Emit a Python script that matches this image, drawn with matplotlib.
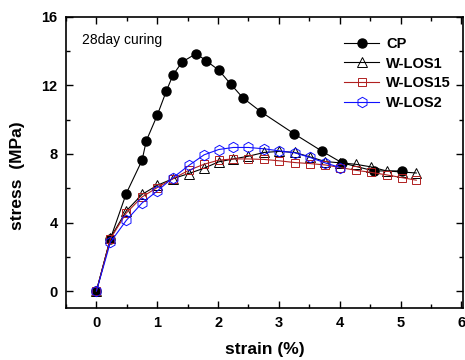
import matplotlib
matplotlib.use('Agg')
import matplotlib.pyplot as plt
from matplotlib.ticker import MultipleLocator

plt.rcParams['font.family'] = ['Liberation Sans', 'DejaVu Sans']

# CP (plain cement paste)
cp_strain = [0, 0.23, 0.49, 0.75, 0.82, 1.0, 1.15, 1.26, 1.41, 1.64, 1.80, 2.01,
             2.21, 2.41, 2.71, 3.25, 3.71, 4.04, 4.56, 5.02]
cp_stress = [0, 3.05, 5.69, 7.63, 8.77, 10.26, 11.68, 12.62, 13.37, 13.86, 13.45,
             12.9, 12.07, 11.27, 10.45, 9.18, 8.16, 7.48, 7.01, 7.01]

# W-LOS1
los1_strain = [0, 0.23, 0.49, 0.75, 1.0, 1.26, 1.52, 1.77, 2.01, 2.25, 2.5, 2.76,
               3.01, 3.26, 3.51, 3.76, 4.01, 4.26, 4.51, 4.77, 5.02, 5.26]
los1_stress = [0, 3.1, 4.67, 5.64, 6.17, 6.56, 6.86, 7.17, 7.54, 7.71, 7.87, 8.09,
               8.15, 8.09, 7.83, 7.56, 7.48, 7.4, 7.25, 7.01, 6.95, 6.89]

# W-LOS15
los15_strain = [0, 0.23, 0.49, 0.75, 1.0, 1.26, 1.52, 1.77, 2.01, 2.25, 2.5, 2.76,
                3.01, 3.26, 3.51, 3.76, 4.01, 4.26, 4.51, 4.77, 5.02, 5.26]
los15_stress = [0, 3.05, 4.55, 5.49, 6.04, 6.56, 7.05, 7.40, 7.64, 7.71, 7.71, 7.68,
                7.6, 7.5, 7.44, 7.36, 7.21, 7.05, 6.93, 6.78, 6.62, 6.47]

# W-LOS2
los2_strain = [0, 0.23, 0.49, 0.75, 1.0, 1.26, 1.52, 1.77, 2.01, 2.25, 2.5, 2.76,
               3.01, 3.26, 3.51, 3.76, 4.01]
los2_stress = [0, 2.85, 4.12, 5.14, 5.84, 6.62, 7.33, 7.95, 8.26, 8.38, 8.38, 8.30,
               8.18, 8.07, 7.8, 7.48, 7.21]

fig = plt.figure(figsize=(4.65, 3.6), dpi=100)
ax = fig.add_axes([0.142, 0.144, 0.854, 0.809])

ax.plot(cp_strain, cp_stress, color='black', lw=0.8, marker='o', ms=6.5,
        mfc='black', mec='black', label='CP')
ax.plot(los1_strain, los1_stress, color='black', lw=0.8, marker='^', ms=7,
        mfc='none', mec='black', mew=0.7, label='W-LOS1')
ax.plot(los15_strain, los15_stress, color='#b02020', lw=0.8, marker='s', ms=6,
        mfc='none', mec='#b02020', mew=0.7, label='W-LOS15')
ax.plot(los2_strain, los2_stress, color='#1010ff', lw=0.8, marker='h', ms=7.5,
        mfc='none', mec='#1010ff', mew=0.7, label='W-LOS2')

ax.set_xlim(-0.5, 6.03)
ax.set_ylim(-1, 16)
ax.xaxis.set_major_locator(MultipleLocator(1))
ax.xaxis.set_minor_locator(MultipleLocator(0.5))
ax.yaxis.set_major_locator(MultipleLocator(4))
ax.yaxis.set_minor_locator(MultipleLocator(2))
ax.tick_params(which='both', direction='in', top=True, right=True, width=1)
ax.tick_params(which='major', length=5, labelsize=10.5, pad=6)
ax.tick_params(which='minor', length=3)
for lab in ax.get_xticklabels() + ax.get_yticklabels():
    lab.set_fontweight('bold')
for sp in ax.spines.values():
    sp.set_linewidth(1.2)

ax.set_xlabel('strain (%)', fontsize=12.5, fontweight='bold', labelpad=8)
ax.set_ylabel('stress  (MPa)', fontsize=12.5, fontweight='bold')
ax.yaxis.set_label_coords(-0.103, 0.455)

ax.text(0.04, 0.945, '28day curing', transform=ax.transAxes, fontsize=10,
        va='top', ha='left')

ax.legend(loc='upper right', bbox_to_anchor=(1.003, 0.977), frameon=False,
          prop={'weight': 'bold', 'size': 10.5}, handlelength=2.4,
          labelspacing=0.4, handletextpad=0.5)

plt.savefig('out.png', dpi=100)
